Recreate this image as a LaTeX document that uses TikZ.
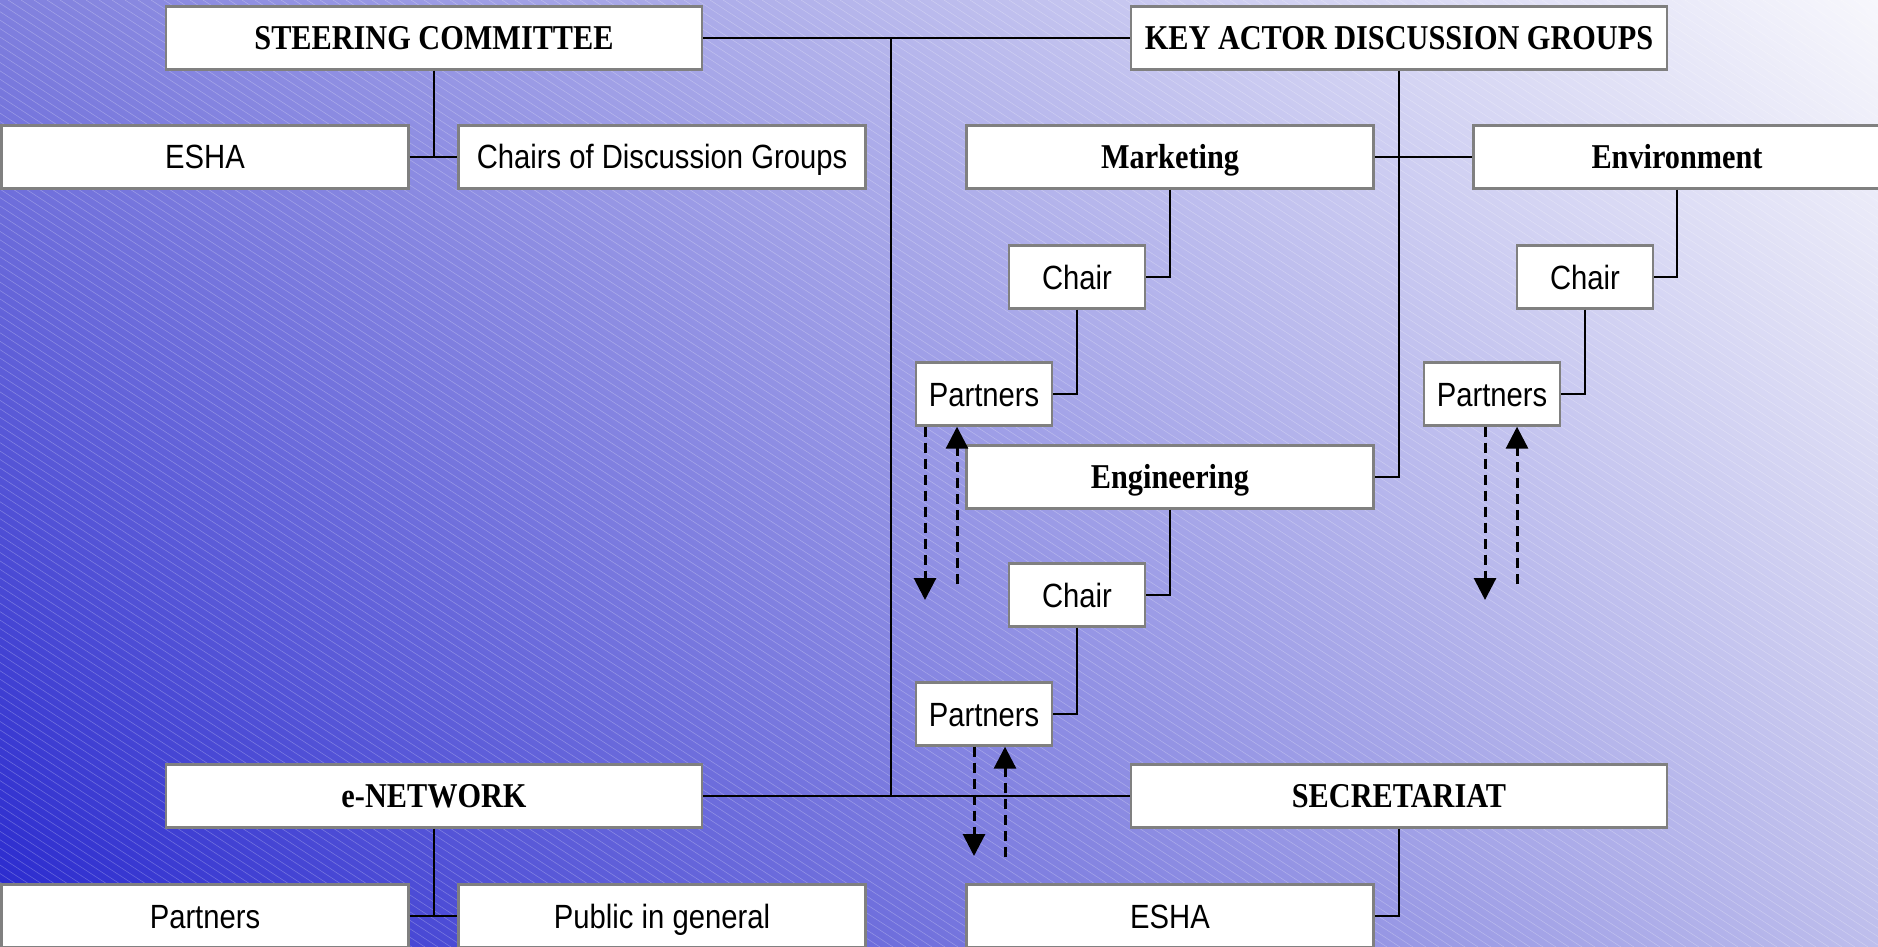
\documentclass[tikz,border=0pt]{standalone}
\usepackage{fontspec}
\usetikzlibrary{arrows.meta, shadings}
\newfontfamily\titlefont{Liberation Serif}[FakeStretch=0.87]
\newfontfamily\labelfont{Liberation Sans}[FakeStretch=0.87]
\definecolor{bgtl}{RGB}{128,128,222}
\definecolor{bgtr}{RGB}{247,247,252}
\definecolor{bgbl}{RGB}{38,38,206}
\definecolor{bgbr}{RGB}{190,190,236}
\definecolor{boxgray}{RGB}{128,128,128}
\tikzset{
  box/.style = {draw=boxgray, line width=1.2pt, fill=white, inner sep=0pt, minimum height=31.5pt},
  head/.style = {box, minimum width=268pt, text height=14.5pt, text depth=3pt, font=\titlefont\bfseries\fontsize{17.4}{20}\selectfont},
  group/.style = {box, minimum width=203.5pt, text height=14.5pt, text depth=3pt, font=\titlefont\bfseries\fontsize{17.4}{20}\selectfont},
  item/.style = {box, minimum width=203.5pt, text height=15pt, text depth=3pt, font=\labelfont\fontsize{16.8}{20}\selectfont},
  small/.style = {box, minimum width=68pt, text height=15pt, text depth=3pt, font=\labelfont\fontsize{16.8}{20}\selectfont},
  link/.style = {line width=1.4pt},
  flow/.style = {line width=1.5pt, dash pattern=on 5pt off 3pt, -{Triangle[width=11pt, length=11pt]}},
  hatch/.style = {white, opacity=.25, line width=.3pt}
}
\begin{document}
\begin{tikzpicture}[x=0.5pt, y=-0.5pt]
  \useasboundingbox (0,0) rectangle (1878,947);
  % background
  \shade[upper left=bgtl, upper right=bgtr, lower left=bgbl, lower right=bgbr] (0,0) rectangle (1878,947);
  \begin{scope}
    \clip (0,0) rectangle (1878,947);
    \foreach \i in {-1500,-1487,...,1878}
      \draw[hatch] (\i,0) -- ++(1457,947);
  \end{scope}

  % top row
  \node[head] (steer) at (434,38) {STEERING COMMITTEE};
  \node[head] (kadg) at (1399,38) {KEY ACTOR DISCUSSION GROUPS};
  \node[item] (esha) at (205,157) {ESHA};
  \node[item] (chairs) at (662,157) {Chairs of Discussion Groups};

  % discussion groups
  \node[group] (mkt) at (1170,157) {Marketing};
  \node[group] (env) at (1677,157) {Environment};
  \node[small] (mktchair) at (1077,277) {Chair};
  \node[small] (mktpart) at (984,394) {Partners};
  \node[small] (envchair) at (1585,277) {Chair};
  \node[small] (envpart) at (1492,394) {Partners};
  \node[group] (eng) at (1170,477) {Engineering};
  \node[small] (engchair) at (1077,595) {Chair};
  \node[small] (engpart) at (984,714) {Partners};

  % bottom row
  \node[head] (enet) at (434,796) {e-NETWORK};
  \node[head] (secr) at (1399,796) {SECRETARIAT};
  \node[item] (netpart) at (205,916) {Partners};
  \node[item] (public) at (662,916) {Public in general};
  \node[item] (esha2) at (1170,916) {ESHA};

  % spine
  \coordinate (spinetop) at (891,38);
  \coordinate (spinebot) at (891,796);
  \draw[link] (steer.east) -- (kadg.west);
  \draw[link] (enet.east) -- (secr.west);
  \draw[link] (spinetop) -- (spinebot);

  \draw[link] (steer.south) -- (steer.south |- esha.east);
  \draw[link] (esha.east) -- (chairs.west);
  \draw[link] (enet.south) -- (enet.south |- netpart.east);
  \draw[link] (netpart.east) -- (public.west);
  \draw[link] (secr.south) |- (esha2.east);

  \draw[link] (kadg.south) |- (eng.east);
  \draw[link] (mkt.east) -- (env.west);
  \draw[link] (mkt.south) |- (mktchair.east);
  \draw[link] (mktchair.south) |- (mktpart.east);
  \draw[link] (env.south) |- (envchair.east);
  \draw[link] (envchair.south) |- (envpart.east);
  \draw[link] (eng.south) |- (engchair.east);
  \draw[link] (engchair.south) |- (engpart.east);

  % exchange with partners
  \coordinate (mktdown) at (925,600);
  \coordinate (mktup) at (957,584);
  \coordinate (envdown) at (1485,600);
  \coordinate (envup) at (1517,584);
  \coordinate (engdown) at (974,856);
  \coordinate (engup) at (1005,857);
  \draw[flow] (mktdown |- mktpart.south) -- (mktdown);
  \draw[flow] (mktup) -- (mktup |- mktpart.south);
  \draw[flow] (envdown |- envpart.south) -- (envdown);
  \draw[flow] (envup) -- (envup |- envpart.south);
  \draw[flow] (engdown |- engpart.south) -- (engdown);
  \draw[flow] (engup) -- (engup |- engpart.south);
\end{tikzpicture}
\end{document}
